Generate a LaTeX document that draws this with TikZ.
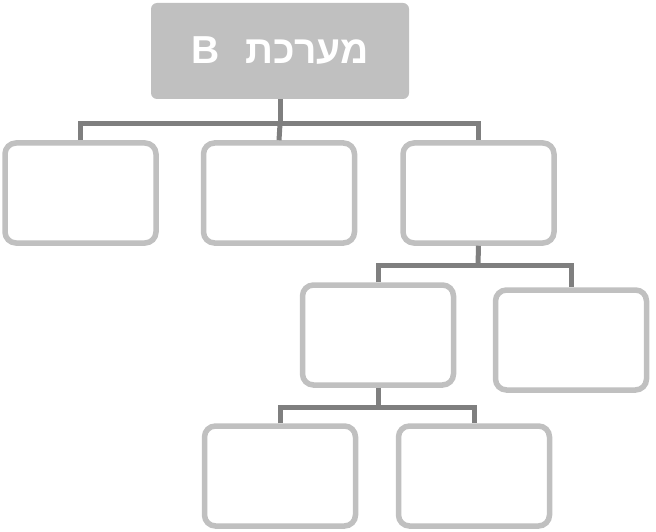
\documentclass[tikz,border=0pt]{standalone}
\usepackage{fontspec}
\usepackage{tikz}
\TeXXeTstate=1
\newfontfamily\hebfont[Script=Hebrew]{Liberation Sans Bold}
\definecolor{boxgray}{HTML}{C0C0C0}
\definecolor{linegray}{HTML}{7F7F7F}
\tikzset{
  unitbox/.style={draw=boxgray, line width=5.5pt, rounded corners=11pt, fill=white,
    minimum width=151pt, minimum height=100pt, inner sep=0pt},
  headbox/.style={fill=boxgray, rounded corners=6pt, minimum width=258pt,
    minimum height=96pt, inner sep=0pt, text=white},
  link/.style={draw=linegray, line width=5pt}
}
\begin{document}
\begin{tikzpicture}[x=1pt,y=-1pt]
    \useasboundingbox (0,0) rectangle (656,532);

    % top box
    \node[headbox] (top) at (280,51) {\hebfont\fontsize{39}{42}\selectfont\beginR מערכת\hspace{26pt}B\endR};

    % first row
    \node[unitbox] (A1) at (80.5,193) {};
    \node[unitbox] (A2) at (279,193) {};
    \node[unitbox] (A3) at (478.5,193) {};

    % second row
    \node[unitbox] (B1) at (378,335) {};
    \node[unitbox] (B2) at (571,340) {};

    % third row
    \node[unitbox] (C1) at (280,476) {};
    \node[unitbox] (C2) at (474,476) {};

    \coordinate (J1) at (280,124);
    \coordinate (J2) at (478,265);
    \coordinate (J3) at (378,407);

    \draw[link] (top.south) -- (J1);
    \draw[link] (A1.north) |- (J1) -| (A3.north);
    \draw[link] (J1) -- (A2.north);

    \draw[link] (A3.south) -- (J2);
    \draw[link] (B1.north) |- (J2) -| (B2.north);

    \draw[link] (B1.south) -- (J3);
    \draw[link] (C1.north) |- (J3) -| (C2.north);
\end{tikzpicture}
\end{document}
